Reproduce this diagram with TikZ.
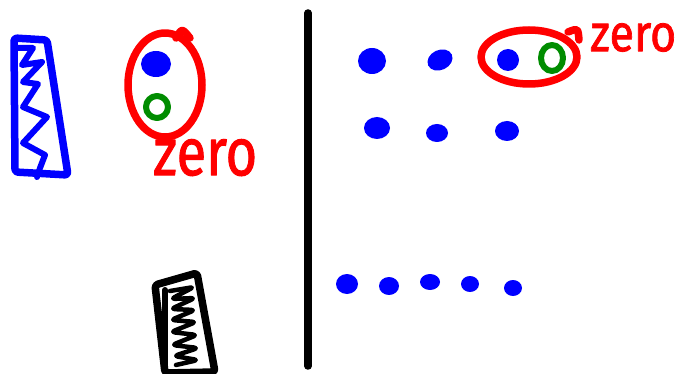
\documentclass[tikz,border=0pt]{standalone}
\usepackage{graphicx}
\usepackage{fontspec}
\newfontfamily\handfont[FakeBold=1.5]{Fira Sans}
\definecolor{penblue}{RGB}{0,0,255}
\definecolor{penred}{RGB}{255,0,0}
\definecolor{pengreen}{RGB}{0,140,0}

\begin{document}
\begin{tikzpicture}[x=1pt,y=-1pt,line cap=round,line join=round,
  pen/.style={line width=7.5pt},
  thinpen/.style={line width=6pt},
  dot/.style={fill=penblue},
  zerotext/.style={text=penred,inner sep=0pt,anchor=north west}]
\useasboundingbox (0,0) rectangle (680,374);

% ---- left half: blue tower ----
\draw[pen,penblue,rounded corners=3pt] (14,38) -- (47,40) -- (68,175) -- (15,172) -- cycle;
\draw[thinpen,penblue] (18,48) -- (33,48) -- (22,65) -- (42,62) -- (23,82) -- (38,84)
  -- (23,107) -- (47,117) -- (23,143) -- (45,155) -- (40,168) -- (37,177);

% ---- the zero group ----
\draw[pen,penred] (165,85) ellipse (37 and 52);
\draw[pen,penred] (176,38) .. controls (182,28) .. (190,38);
\fill[penblue] (156,64) ellipse (15 and 13);
\draw[thinpen,pengreen] (157,107) circle (11);
\node[zerotext] (zeroL) at (153,139) {\resizebox{104pt}{36pt}{\handfont zero}};

% ---- black tower with spring ----
\draw[pen,rounded corners=3pt] (155,285) -- (197,273) -- (215,372) -- (165,373) -- cycle;
\draw[thinpen] (165,290) -- (165,367);
\draw[line width=4.5pt,rounded corners=4pt] (170,291) -- (194,287) -- (171,299) -- (195,298)
  -- (171,309) -- (195,310) -- (171,320) -- (196,322) -- (171,332) -- (197,335)
  -- (172,345) -- (198,348) -- (174,356) -- (198,360) -- (176,365);

% ---- divider ----
\draw[pen] (308,13) -- (308,366);

% ---- right half: dots ----
\fill[dot] (372,61) ellipse (14 and 13);
\fill[dot,rotate around={25:(440,60)}] (440,60) ellipse (13 and 10);
\fill[dot] (508,60) ellipse (11 and 11);
\fill[dot] (377,128) ellipse (13 and 11);
\fill[dot] (437,133) ellipse (11 and 9);
\fill[dot] (507,131) ellipse (12 and 10);

\draw[pen,penred] (529,57) ellipse (48 and 27);
\draw[pen,penred] (568,32) .. controls (578,28) .. (579,40);
\draw[thinpen,pengreen] (552,58) ellipse (11 and 13);
\node[zerotext] (zeroR) at (590,23) {\resizebox{86pt}{28pt}{\handfont zero}};

\fill[dot] (347,284) ellipse (11 and 10);
\fill[dot] (389,286) ellipse (10 and 9);
\fill[dot] (430,282) ellipse (10 and 8);
\fill[dot] (470,284) ellipse (9 and 8);
\fill[dot] (513,288) ellipse (9 and 8);

\end{tikzpicture}
\end{document}
